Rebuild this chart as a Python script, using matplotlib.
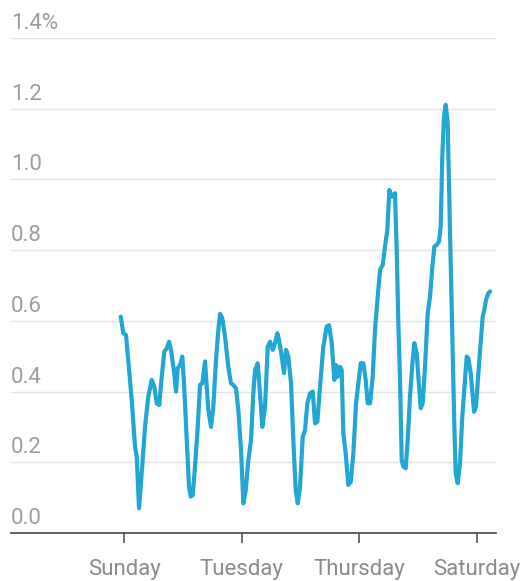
import matplotlib
matplotlib.use("Agg")
import matplotlib.pyplot as plt
from matplotlib import transforms

# x in days since Sunday 00:00, y in percent
days = [-0.056, -0.012, 0.034, 0.131, 0.187, 0.216, 0.255, 0.301, 0.357, 0.413,
        0.471, 0.515, 0.556, 0.600, 0.641, 0.685, 0.726, 0.765, 0.799, 0.850,
        0.884, 0.913, 0.952, 0.991, 1.020, 1.066, 1.105, 1.134, 1.168, 1.207,
        1.253, 1.292, 1.331, 1.377, 1.433, 1.479, 1.518, 1.564, 1.603, 1.632,
        1.671, 1.717, 1.773, 1.819, 1.858, 1.904, 1.943, 1.989, 2.028, 2.069,
        2.113, 2.159, 2.198, 2.227, 2.273, 2.312, 2.351, 2.397, 2.443, 2.482,
        2.528, 2.567, 2.606, 2.635, 2.681, 2.720, 2.754, 2.793, 2.839, 2.878,
        2.919, 2.953, 2.992, 3.038, 3.077, 3.116, 3.162, 3.208, 3.247, 3.286,
        3.332, 3.388, 3.446, 3.485, 3.531, 3.575, 3.604, 3.633, 3.672, 3.700,
        3.728, 3.768, 3.813, 3.854, 3.898, 3.944, 3.983, 4.023, 4.068, 4.108,
        4.142, 4.182, 4.227, 4.266, 4.312, 4.352, 4.397, 4.436, 4.476, 4.510,
        4.550, 4.578, 4.606, 4.635, 4.663, 4.692, 4.720, 4.748, 4.788, 4.822,
        4.861, 4.907, 4.935, 4.975, 5.003, 5.043, 5.077, 5.116, 5.162, 5.201,
        5.241, 5.275, 5.315, 5.354, 5.383, 5.410, 5.439, 5.468, 5.502, 5.524,
        5.553, 5.587, 5.614, 5.638, 5.672, 5.711, 5.750, 5.796, 5.825, 5.853,
        5.893, 5.927, 5.950, 5.983, 6.023, 6.063, 6.097, 6.124, 6.153, 6.192,
        6.221]
share = [0.612, 0.565, 0.560, 0.376, 0.244, 0.216, 0.070, 0.170, 0.300, 0.386,
         0.433, 0.414, 0.367, 0.362, 0.442, 0.513, 0.522, 0.541, 0.518, 0.456,
         0.400, 0.466, 0.475, 0.499, 0.423, 0.263, 0.131, 0.103, 0.107, 0.188,
         0.300, 0.419, 0.423, 0.485, 0.348, 0.300, 0.357, 0.490, 0.574, 0.620,
         0.607, 0.555, 0.470, 0.423, 0.419, 0.409, 0.348, 0.235, 0.084, 0.120,
         0.206, 0.263, 0.395, 0.461, 0.480, 0.395, 0.300, 0.357, 0.527, 0.541,
         0.518, 0.537, 0.565, 0.546, 0.499, 0.452, 0.518, 0.499, 0.423, 0.263,
         0.120, 0.084, 0.131, 0.272, 0.291, 0.367, 0.395, 0.400, 0.310, 0.315,
         0.414, 0.527, 0.584, 0.588, 0.537, 0.433, 0.475, 0.442, 0.470, 0.461,
         0.282, 0.225, 0.136, 0.145, 0.225, 0.367, 0.423, 0.480, 0.480, 0.433,
         0.367, 0.367, 0.442, 0.574, 0.668, 0.744, 0.758, 0.810, 0.857, 0.970,
         0.951, 0.956, 0.961, 0.800, 0.593, 0.433, 0.206, 0.188, 0.183, 0.263,
         0.386, 0.490, 0.537, 0.508, 0.442, 0.353, 0.367, 0.470, 0.621, 0.668,
         0.753, 0.810, 0.815, 0.824, 0.867, 1.065, 1.178, 1.211, 1.159, 0.989,
         0.763, 0.518, 0.310, 0.169, 0.141, 0.197, 0.329, 0.433, 0.499, 0.494,
         0.452, 0.386, 0.343, 0.357, 0.452, 0.537, 0.612, 0.631, 0.659, 0.678,
         0.683]

tick_days = [0, 2, 4, 6]
tick_labels = ["Sunday", "Tuesday", "Thursday", "Saturday"]
y_levels = [0.0, 0.2, 0.4, 0.6, 0.8, 1.0, 1.2, 1.4]
y_labels = ["0.0", "0.2", "0.4", "0.6", "0.8", "1.0", "1.2", "1.4%"]

plt.rcParams["font.family"] = ["Roboto", "DejaVu Sans"]

W, H = 531, 581
fig = plt.figure(figsize=(W / 100, H / 100), dpi=100)
ax = fig.add_axes([11 / W, (H - 533) / H, (496 - 11) / W, (533 - 38) / H])

ax.set_xlim(-1.921, 6.323)
ax.set_ylim(0, 1.4)

# gridlines
for lvl in y_levels[1:]:
    ax.axhline(lvl, color="#e4e4e4", lw=1.0, zorder=1)

ax.plot(days, share, color="#22a6d3", lw=3.0, solid_joinstyle="round",
        solid_capstyle="round", zorder=3, clip_on=False)

# y labels sit above their gridline, left aligned
trans = transforms.blended_transform_factory(ax.transAxes, ax.transData)
trans = transforms.offset_copy(trans, fig=fig, x=0, y=9, units="dots")
for lvl, lab in zip(y_levels, y_labels):
    ax.text(0.0, lvl, lab, transform=trans, ha="left", va="baseline",
            fontsize=16, color="#9e9e9e")

ax.set_yticks([])
ax.set_xticks(tick_days)
ax.set_xticklabels(tick_labels, fontsize=16, color="#8c8c8c")
ax.tick_params(axis="x", length=7, width=1.2, color="#555555", pad=12)

for side in ["top", "right", "left"]:
    ax.spines[side].set_visible(False)
ax.spines["bottom"].set_color("#555555")
ax.spines["bottom"].set_linewidth(1.3)

fig.savefig("out.png", dpi=100)
